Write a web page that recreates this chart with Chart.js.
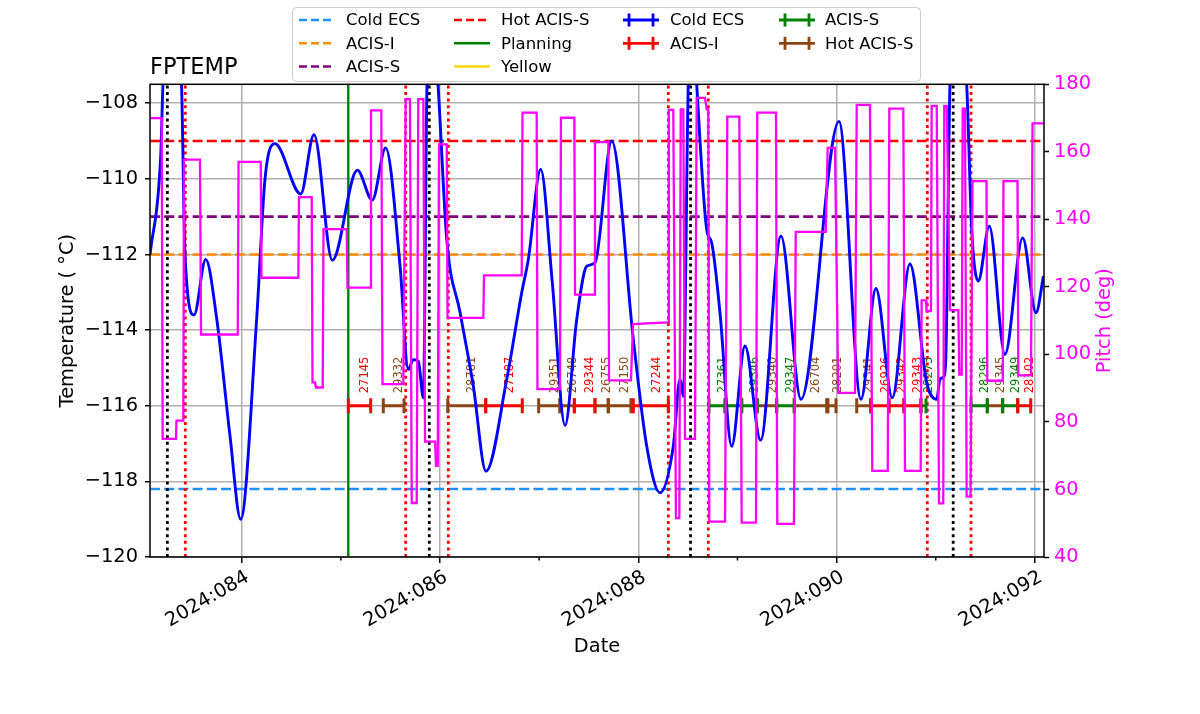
<!DOCTYPE html>
<html>
<head>
<meta charset="utf-8">
<title>FPTEMP</title>
<script src="https://cdn.jsdelivr.net/npm/chart.js@4.4.1/dist/chart.umd.min.js"></script>
<style>
  html, body { margin: 0; padding: 0; background: #ffffff; }
  #wrap { width: 1200px; height: 714px; }
</style>
</head>
<body>
<div id="wrap"><canvas id="chartCanvas" width="1200" height="714"></canvas></div>
<script>
(function() {
  'use strict';

  // x values are fractional day-of-year 2024
  var tempDays = [83.075, 83.183, 83.206, 83.297, 83.393, 83.428, 83.519, 83.637, 83.748, 83.882,
    83.990, 84.151, 84.235, 84.336, 84.595, 84.729, 84.914, 85.166, 85.317, 85.452,
    85.597, 85.680, 85.731, 85.781, 85.832, 85.869, 85.924, 85.980, 86.068, 86.202,
    86.336, 86.464, 86.673, 86.824, 86.891, 87.016, 87.130, 87.261, 87.379, 87.480,
    87.563, 87.732, 87.950, 88.085, 88.219, 88.353, 88.421, 88.454, 88.504, 88.547,
    88.589, 88.690, 88.740, 88.824, 88.942, 89.076, 89.234, 89.439, 89.641, 90.024,
    90.246, 90.397, 90.562, 90.740, 90.909, 91.010, 91.043, 91.076, 91.100, 91.144,
    91.224, 91.312, 91.363, 91.429, 91.540, 91.698, 91.877, 92.011, 92.087];
  var tempValues = [-112.0, -109.4, -107.5, -105.0, -107.5, -112.0, -113.6, -112.13, -113.7, -116.8,
    -119.0, -113.7, -110.0, -109.07, -110.4, -108.83, -112.15, -109.77, -110.56, -109.18,
    -112.3, -115.04, -114.78, -114.82, -115.79, -107.5, -105.5, -107.5, -111.6, -113.53,
    -115.48, -117.73, -115.3, -113.01, -112.13, -109.75, -112.66, -116.52, -113.72, -112.31,
    -112.22, -109.0, -114.25, -117.07, -118.3, -117.07, -115.3, -115.75, -107.5, -105.5,
    -107.5, -111.34, -111.69, -113.54, -117.07, -114.42, -116.91, -111.51, -115.83, -108.48,
    -115.83, -112.9, -115.79, -112.25, -115.39, -115.83, -115.3, -115.25, -114.86, -107.5,
    -105.5, -107.5, -111.35, -112.7, -111.25, -114.64, -111.56, -113.54, -112.57];

  var pitchDays = [83.075, 83.193, 83.203, 83.337, 83.342, 83.411, 83.418, 83.579, 83.590, 83.960,
    83.968, 84.192, 84.200, 84.571, 84.578, 84.706, 84.714, 84.739, 84.749, 84.817,
    84.825, 85.059, 85.067, 85.294, 85.304, 85.408, 85.420, 85.630, 85.654, 85.697,
    85.715, 85.765, 85.781, 85.832, 85.849, 85.950, 85.960, 85.977, 85.990, 86.068,
    86.076, 86.437, 86.444, 86.824, 86.832, 86.975, 86.983, 87.210, 87.220, 87.355,
    87.362, 87.556, 87.563, 87.698, 87.705, 87.926, 87.947, 88.300, 88.308, 88.353,
    88.380, 88.414, 88.428, 88.454, 88.471, 88.572, 88.589, 88.673, 88.690, 88.706,
    88.716, 88.875, 88.898, 89.019, 89.043, 89.187, 89.200, 89.389, 89.402, 89.570,
    89.588, 89.890, 89.910, 89.984, 90.017, 90.186, 90.203, 90.337, 90.360, 90.516,
    90.532, 90.673, 90.690, 90.848, 90.858, 90.902, 90.907, 90.952, 90.959, 91.010,
    91.033, 91.076, 91.086, 91.111, 91.144, 91.228, 91.238, 91.262, 91.272, 91.295,
    91.312, 91.351, 91.371, 91.512, 91.520, 91.676, 91.683, 91.825, 91.833, 91.961,
    91.976, 92.087];
  var pitchValues = [170, 170, 75, 75, 80.4, 80.4, 157.7, 157.7, 105.9, 105.9,
    157, 157, 122.7, 122.7, 146.6, 146.6, 91.7, 91.7, 90.2, 90.2,
    137.1, 137.1, 119.8, 119.8, 172.3, 172.3, 91.2, 91.2, 175.6, 175.6,
    56, 56, 175.6, 175.6, 74.2, 74.2, 67, 67, 162.2, 162.2,
    110.8, 110.8, 123.4, 123.4, 171.6, 171.6, 89.7, 89.7, 170.1, 170.1,
    117.7, 117.7, 162.9, 162.9, 92.3, 92.3, 109.0, 109.5, 172.4, 172.4,
    51.5, 51.5, 172.6, 172.6, 75, 75, 176, 176, 172.6, 172.6,
    50.5, 50.5, 170.4, 170.4, 50.2, 50.2, 171.6, 171.6, 49.8, 49.8,
    136.3, 136.3, 161.2, 161.2, 88.6, 88.6, 173.9, 173.9, 65.5, 65.5,
    172.8, 172.8, 65.5, 65.5, 116, 116, 112.8, 112.8, 173.6, 173.6,
    55.9, 55.9, 173.6, 173.6, 113.1, 113.1, 94, 94, 172.8, 172.8,
    57.9, 57.9, 151.3, 151.3, 92.2, 92.2, 151.3, 151.3, 93.8, 93.8,
    168.4, 168.4];

  var limitNames = ['Cold ECS', 'ACIS-I', 'ACIS-S', 'Hot ACIS-S'];
  var limitValues = [-118.2, -112, -111, -109];

  var planningDays = [85.075];
  var blackLineDays = [83.250, 85.892, 88.527, 91.176];
  var redLineDays = [83.431, 85.654, 86.084, 88.303, 88.706, 90.915, 91.356];

  var obsLevel = -116;
  var obsStart = [85.075, 85.428, 86.078, 86.461, 86.995, 87.210, 87.355, 87.563, 87.697, 87.950,
    88.713, 88.875, 89.043, 89.200, 89.396, 89.573, 89.913, 90.203, 90.344, 90.528,
    90.680, 90.851, 91.356, 91.520, 91.675, 91.827];
  var obsStop = [85.301, 85.637, 86.461, 86.830, 87.210, 87.355, 87.563, 87.697, 87.926, 88.303,
    88.875, 89.043, 89.200, 89.396, 89.573, 89.900, 89.994, 90.344, 90.528, 90.680,
    90.851, 90.902, 91.520, 91.675, 91.827, 91.958];
  var obsIds = ['27145', '29332', '28781', '27187', '29351', '26748', '29344', '26755', '27150', '27244',
    '27361', '', '29346', '29340', '29347', '26704', '28201', '29341', '26926', '29342',
    '29343', '28273', '28296', '29345', '29349', '28102'];
  var obsModes = ['ACIS-I', 'Hot ACIS-S', 'Hot ACIS-S', 'ACIS-I', 'Hot ACIS-S', 'Hot ACIS-S', 'ACIS-I', 'Hot ACIS-S', 'Hot ACIS-S', 'ACIS-I',
    'ACIS-S', 'ACIS-S', 'ACIS-S', 'Hot ACIS-S', 'ACIS-S', 'Hot ACIS-S', 'Hot ACIS-S', 'Hot ACIS-S', 'ACIS-I', 'ACIS-I',
    'ACIS-I', 'ACIS-S', 'ACIS-S', 'Hot ACIS-S', 'ACIS-S', 'ACIS-I'];

  var dayTicks = [84, 85, 86, 87, 88, 89, 90, 91, 92];
  var tempTicks = [-120, -118, -116, -114, -112, -110, -108];
  var pitchTicks = [40, 60, 80, 100, 120, 140, 160, 180];
  var dayRange = [83.075, 92.092];
  var tempRange = [-120, -107.5];
  var pitchRange = [40, 180];

  var legendLabels = ['Cold ECS', 'ACIS-I', 'ACIS-S', 'Hot ACIS-S', 'Planning', 'Yellow',
    'Cold ECS', 'ACIS-I', 'ACIS-S', 'Hot ACIS-S'];
  var legendKinds = ['dash', 'dash', 'dash', 'dash', 'solid', 'solid', 'err', 'err', 'err', 'err'];

  var FONT = "'DejaVu Sans', sans-serif";
  var limitColors = { 'Cold ECS': '#1e90ff', 'ACIS-I': '#ff8c00', 'ACIS-S': '#800080', 'Hot ACIS-S': '#ff0000' };
  var modeColors = { 'Cold ECS': '#0000ff', 'ACIS-I': '#ff0000', 'ACIS-S': '#008000', 'Hot ACIS-S': '#8b4513' };
  var legendColors = [limitColors['Cold ECS'], limitColors['ACIS-I'], limitColors['ACIS-S'], limitColors['Hot ACIS-S'],
    '#008000', '#ffd700', modeColors['Cold ECS'], modeColors['ACIS-I'], modeColors['ACIS-S'], modeColors['Hot ACIS-S']];

  function pairs(xs, ys) {
    return xs.map(function(x, i) { return { x: x, y: ys[i] }; });
  }

  function hline(v) {
    return [{ x: dayRange[0], y: v }, { x: dayRange[1], y: v }];
  }

  function vlines(days) {
    var pts = [];
    days.forEach(function(d) {
      pts.push({ x: d, y: tempRange[0] }, { x: d, y: tempRange[1] }, { x: d, y: null });
    });
    return pts;
  }

  function obsPoints(mode) {
    var pts = [];
    for (var i = 0; i < obsIds.length; i++) {
      if (obsModes[i] !== mode) continue;
      pts.push({ x: obsStart[i], y: obsLevel }, { x: obsStop[i], y: obsLevel }, { x: obsStop[i], y: null });
    }
    return pts;
  }

  function isMajor(v) { return Math.round(v) % 2 === 0; }
  function minus(v) { return v < 0 ? '\u2212' + Math.abs(v) : String(v); }
  function dayLabel(v) { return '2024:' + ('00' + Math.round(v)).slice(-3); }

  function buildDatasets() {
    var ds = [];
    ds.push({
      label: 'Pitch', data: pairs(pitchDays, pitchValues), yAxisID: 'yPitch',
      borderColor: '#ff00ff', borderWidth: 2.3, pointRadius: 0, tension: 0, order: 0, clip: 0
    });
    ds.push({
      label: 'FPTEMP', data: pairs(tempDays, tempValues), yAxisID: 'y',
      borderColor: '#0000ff', borderWidth: 2.9, pointRadius: 0,
      cubicInterpolationMode: 'monotone', order: 1, clip: 0
    });
    ['ACIS-I', 'ACIS-S', 'Hot ACIS-S'].forEach(function(mode) {
      var c = modeColors[mode];
      ds.push({
        label: mode, data: obsPoints(mode), yAxisID: 'y',
        borderColor: c, borderWidth: 3, spanGaps: false,
        pointStyle: 'line', pointRotation: 90, pointRadius: 7.5,
        pointBorderWidth: 3, pointBorderColor: c, pointBackgroundColor: c, order: 2
      });
    });
    ds.push({
      label: 'Planning', data: vlines(planningDays), yAxisID: 'y',
      borderColor: '#008000', borderWidth: 2.4, pointRadius: 0, spanGaps: false, order: 3
    });
    ds.push({
      label: 'black', data: vlines(blackLineDays), yAxisID: 'y',
      borderColor: '#000000', borderWidth: 2.8, borderDash: [3, 3.6], pointRadius: 0, spanGaps: false, order: 3
    });
    ds.push({
      label: 'red', data: vlines(redLineDays), yAxisID: 'y',
      borderColor: '#ff0000', borderWidth: 2.8, borderDash: [3, 3.6], pointRadius: 0, spanGaps: false, order: 3
    });
    limitNames.forEach(function(name, i) {
      ds.push({
        label: name, data: hline(limitValues[i]), yAxisID: 'y',
        borderColor: limitColors[name], borderWidth: 2.6, borderDash: [10, 4.2], pointRadius: 0, order: 4
      });
    });
    return ds;
  }

  var decorations = {
    id: 'decorations',
    beforeDraw: function(chart) {
      var ctx = chart.ctx;
      ctx.save();
      ctx.fillStyle = '#ffffff';
      ctx.fillRect(0, 0, chart.width, chart.height);
      ctx.restore();
    },
    beforeDatasetsDraw: function(chart) {
      var ctx = chart.ctx, xs = chart.scales.x, ys = chart.scales.y;
      ctx.save();
      ctx.font = '11.5px ' + FONT;
      ctx.textAlign = 'left';
      ctx.textBaseline = 'top';
      for (var i = 0; i < obsIds.length; i++) {
        if (!obsIds[i]) continue;
        var px = xs.getPixelForValue((obsStart[i] + obsStop[i]) / 2);
        var py = ys.getPixelForValue(-115.67);
        ctx.save();
        ctx.translate(px, py);
        ctx.rotate(-Math.PI / 2);
        ctx.fillStyle = modeColors[obsModes[i]];
        ctx.fillText(obsIds[i], 0, 0);
        ctx.restore();
      }
      ctx.restore();
    },
    afterDraw: function(chart) {
      var ctx = chart.ctx, a = chart.chartArea, xs = chart.scales.x;
      ctx.save();

      // axes frame
      ctx.strokeStyle = '#000000';
      ctx.lineWidth = 1.5;
      ctx.strokeRect(a.left, a.top, a.right - a.left, a.bottom - a.top);

      // minor x ticks
      dayTicks.forEach(function(d) {
        if (isMajor(d)) return;
        var px = xs.getPixelForValue(d);
        ctx.beginPath();
        ctx.moveTo(px, a.bottom);
        ctx.lineTo(px, a.bottom + 3.5);
        ctx.stroke();
      });

      // title
      ctx.fillStyle = '#000000';
      ctx.font = '22.5px ' + FONT;
      ctx.textAlign = 'left';
      ctx.textBaseline = 'alphabetic';
      ctx.fillText('FPTEMP', a.left, 74);

      // right axis title
      ctx.save();
      ctx.translate(1105, (a.top + a.bottom) / 2);
      ctx.rotate(-Math.PI / 2);
      ctx.fillStyle = '#ff00ff';
      ctx.font = '19.4px ' + FONT;
      ctx.textAlign = 'center';
      ctx.textBaseline = 'middle';
      ctx.fillText('Pitch (deg)', 0, 0);
      ctx.restore();

      // legend
      var box = { x: 292.5, y: 7.5, w: 628, h: 74 };
      ctx.beginPath();
      ctx.roundRect(box.x, box.y, box.w, box.h, 4);
      ctx.fillStyle = 'rgba(255,255,255,0.8)';
      ctx.fill();
      ctx.strokeStyle = '#cccccc';
      ctx.lineWidth = 1;
      ctx.stroke();

      var colHandle = [299, 454, 623, 779];
      var colText = [346, 501, 670, 825];
      var rowY = [20, 43.3, 66.5];
      var colOf = [0, 0, 0, 1, 1, 1, 2, 2, 3, 3];
      var rowOf = [0, 1, 2, 0, 1, 2, 0, 1, 0, 1];
      ctx.font = '16.5px ' + FONT;
      ctx.textBaseline = 'middle';
      ctx.textAlign = 'left';
      for (var i = 0; i < legendLabels.length; i++) {
        var hx = colHandle[colOf[i]], hy = rowY[rowOf[i]], hw = 36;
        ctx.strokeStyle = legendColors[i];
        ctx.lineWidth = legendKinds[i] === 'err' ? 2.8 : 2.5;
        ctx.setLineDash(legendKinds[i] === 'dash' ? [8, 4] : []);
        ctx.beginPath();
        ctx.moveTo(hx, hy);
        ctx.lineTo(hx + hw, hy);
        ctx.stroke();
        ctx.setLineDash([]);
        if (legendKinds[i] === 'err') {
          [hx + 6, hx + hw - 6].forEach(function(cx) {
            ctx.beginPath();
            ctx.moveTo(cx, hy - 6.5);
            ctx.lineTo(cx, hy + 6.5);
            ctx.stroke();
          });
        }
        ctx.fillStyle = '#000000';
        ctx.fillText(legendLabels[i], colText[colOf[i]], hy + 1);
      }
      ctx.restore();
    }
  };

  function init() {
    var canvas = document.getElementById('chartCanvas');
    var tickFont = { family: FONT, size: 19.4 };

    new Chart(canvas.getContext('2d'), {
      type: 'line',
      data: { datasets: buildDatasets() },
      plugins: [decorations],
      options: {
        responsive: false,
        devicePixelRatio: 1,
        animation: false,
        events: [],
        layout: { padding: { top: 84.3, left: 0, right: 0, bottom: 0 } },
        plugins: { legend: { display: false }, title: { display: false }, tooltip: { enabled: false } },
        scales: {
          x: {
            type: 'linear',
            min: dayRange[0],
            max: dayRange[1],
            afterBuildTicks: function(s) { s.ticks = dayTicks.map(function(v) { return { value: v }; }); },
            afterFit: function(s) { s.height = 714 - 557; },
            border: { display: false },
            grid: {
              lineWidth: 1.5,
              tickLength: 6,
              tickWidth: 1.5,
              color: function(c) { return c.tick && isMajor(c.tick.value) ? '#b0b0b0' : 'rgba(0,0,0,0)'; },
              tickColor: function(c) { return c.tick && isMajor(c.tick.value) ? '#000000' : 'rgba(0,0,0,0)'; }
            },
            ticks: {
              autoSkip: false,
              minRotation: 30,
              maxRotation: 30,
              padding: 3,
              labelOffset: 6,
              color: '#000000',
              font: tickFont,
              callback: function(v) { return isMajor(v) ? dayLabel(v) : ''; }
            },
            title: { display: true, text: 'Date', color: '#000000', font: tickFont, padding: { top: 0, bottom: 55 } }
          },
          y: {
            type: 'linear',
            position: 'left',
            min: tempRange[0],
            max: tempRange[1],
            afterBuildTicks: function(s) { s.ticks = tempTicks.map(function(v) { return { value: v }; }); },
            afterFit: function(s) { s.width = 150; },
            border: { display: false },
            grid: { color: '#b0b0b0', lineWidth: 1.5, tickLength: 5, tickWidth: 1.5, tickColor: '#000000' },
            ticks: { color: '#000000', font: tickFont, padding: 7, callback: function(v) { return minus(v); } },
            title: { display: true, text: 'Temperature ( \u00b0C)', color: '#000000', font: tickFont, padding: { top: 56.4, bottom: 0 } }
          },
          yPitch: {
            type: 'linear',
            position: 'right',
            min: pitchRange[0],
            max: pitchRange[1],
            afterBuildTicks: function(s) { s.ticks = pitchTicks.map(function(v) { return { value: v }; }); },
            afterFit: function(s) { s.width = 1200 - 1044; },
            border: { display: false },
            grid: { drawOnChartArea: false, tickLength: 5, tickWidth: 1.5, tickColor: '#000000' },
            ticks: { color: '#ff00ff', font: tickFont, padding: 5 }
          }
        }
      }
    });
  }

  document.addEventListener('DOMContentLoaded', init);
})();
</script>
</body>
</html>
